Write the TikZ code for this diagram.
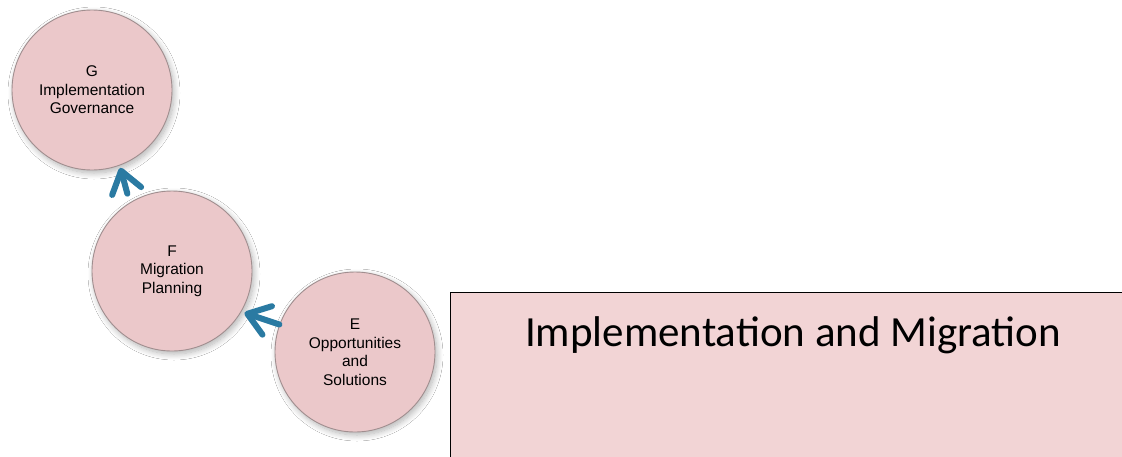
\documentclass[tikz,border=0pt]{standalone}
\usepackage{fontspec}
\setmainfont{Liberation Sans}
\newfontfamily\carl{Carlito}
\usetikzlibrary{arrows.meta,shadows.blur,calc}
\definecolor{circfill}{HTML}{EBC8CA}
\definecolor{circline}{HTML}{A08E8F}
\definecolor{boxfill}{HTML}{F2D4D5}
\definecolor{arrcol}{HTML}{2A7AA2}
\tikzset{
  phase/.style={circle, minimum size=160pt, inner sep=0pt, fill=circfill, draw=circline, line width=0.9pt,
    align=center, font=\fontsize{15.5pt}{18.5pt}\selectfont,
    blur shadow={shadow xshift=2pt, shadow yshift=-3pt, shadow blur radius=6pt, shadow blur steps=10, shadow opacity=30}},
  flow/.style={draw=arrcol, line width=6pt, -{Straight Barb[length=21pt,width=30pt,round]}, line cap=round},
  titlebox/.style={fill=boxfill, draw=black, line width=0.8pt}
}
\begin{document}
\begin{tikzpicture}[x=1pt,y=-1pt]
\useasboundingbox (0,0) rectangle (1122,456);
\fill[white] (0,0) rectangle (1122,456);
\draw[titlebox] (450,292) rectangle (1140,470);
\node[anchor=base, font=\carl\fontsize{43pt}{50pt}\selectfont] (title) at (793,346) {Implementation and Migration};
\node[phase] (G) at (92,90) {G\\Implementation\\Governance};
\node[phase] (F) at (172,271) {F\\Migration\\Planning};
\node[phase] (E) at (355,352) {E\\Opportunities\\and\\Solutions};
\draw[flow] ($(F)!1.11!(F.120)$) -- ($(G)!1.03!(G.290)$);
\draw[flow] ($(E)!1.0!(E.160)$) -- ($(F)!1.04!(F.330)$);
\end{tikzpicture}
\end{document}
